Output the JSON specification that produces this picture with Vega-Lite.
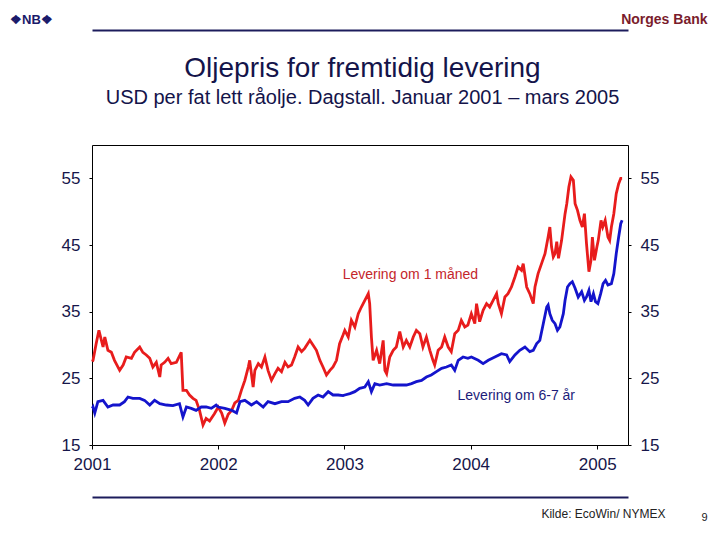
{
  "$schema": "https://vega.github.io/schema/vega-lite/v6.json",
  "width": 536,
  "height": 300,
  "autosize": "none",
  "padding": {"left": 92, "top": 145, "right": 92, "bottom": 95},
  "background": "white",
  "config": {
    "view": {"stroke": "#000000", "strokeWidth": 1},
    "font": "Liberation Sans",
    "axis": {"grid": false, "domain": false, "labelFont": "Liberation Sans", "titleFont": "Liberation Sans"}
  },
  "datasets": {
    "m1": [
      {"date": "2001-01-02", "value": 27.5},
      {"date": "2001-01-04", "value": 27.7},
      {"date": "2001-01-13", "value": 30.2},
      {"date": "2001-01-21", "value": 32.2},
      {"date": "2001-02-02", "value": 29.7},
      {"date": "2001-02-07", "value": 31.2},
      {"date": "2001-02-16", "value": 29.2},
      {"date": "2001-02-26", "value": 28.9},
      {"date": "2001-03-07", "value": 27.7},
      {"date": "2001-03-22", "value": 26.2},
      {"date": "2001-04-01", "value": 27.0},
      {"date": "2001-04-10", "value": 28.2},
      {"date": "2001-04-25", "value": 28.0},
      {"date": "2001-05-04", "value": 28.9},
      {"date": "2001-05-19", "value": 29.7},
      {"date": "2001-05-28", "value": 28.9},
      {"date": "2001-06-07", "value": 28.5},
      {"date": "2001-06-17", "value": 28.0},
      {"date": "2001-06-26", "value": 26.7},
      {"date": "2001-07-06", "value": 27.4},
      {"date": "2001-07-16", "value": 25.2},
      {"date": "2001-07-20", "value": 27.0},
      {"date": "2001-07-30", "value": 27.4},
      {"date": "2001-08-09", "value": 28.0},
      {"date": "2001-08-18", "value": 27.2},
      {"date": "2001-09-02", "value": 27.4},
      {"date": "2001-09-16", "value": 28.9},
      {"date": "2001-09-21", "value": 23.2},
      {"date": "2001-10-01", "value": 23.2},
      {"date": "2001-10-10", "value": 22.5},
      {"date": "2001-10-20", "value": 22.0},
      {"date": "2001-10-29", "value": 21.7},
      {"date": "2001-11-08", "value": 20.2},
      {"date": "2001-11-18", "value": 18.0},
      {"date": "2001-11-27", "value": 19.0},
      {"date": "2001-12-07", "value": 18.6},
      {"date": "2001-12-21", "value": 19.7},
      {"date": "2002-01-01", "value": 20.7},
      {"date": "2002-01-11", "value": 19.8},
      {"date": "2002-01-20", "value": 18.3},
      {"date": "2002-01-30", "value": 19.6},
      {"date": "2002-02-09", "value": 20.2},
      {"date": "2002-02-18", "value": 21.3},
      {"date": "2002-02-28", "value": 21.7},
      {"date": "2002-03-09", "value": 23.2},
      {"date": "2002-03-19", "value": 24.7},
      {"date": "2002-03-29", "value": 26.7},
      {"date": "2002-04-02", "value": 27.7},
      {"date": "2002-04-12", "value": 23.7},
      {"date": "2002-04-17", "value": 26.2},
      {"date": "2002-04-27", "value": 27.2},
      {"date": "2002-05-06", "value": 26.7},
      {"date": "2002-05-16", "value": 28.2},
      {"date": "2002-05-25", "value": 26.2},
      {"date": "2002-06-04", "value": 24.7},
      {"date": "2002-06-14", "value": 25.7},
      {"date": "2002-06-23", "value": 26.5},
      {"date": "2002-07-03", "value": 26.0},
      {"date": "2002-07-13", "value": 27.4},
      {"date": "2002-07-22", "value": 26.7},
      {"date": "2002-08-01", "value": 27.0},
      {"date": "2002-08-10", "value": 28.2},
      {"date": "2002-08-20", "value": 29.7},
      {"date": "2002-08-30", "value": 29.0},
      {"date": "2002-09-08", "value": 29.5},
      {"date": "2002-09-23", "value": 30.7},
      {"date": "2002-10-02", "value": 30.0},
      {"date": "2002-10-12", "value": 29.2},
      {"date": "2002-10-22", "value": 27.7},
      {"date": "2002-10-31", "value": 26.7},
      {"date": "2002-11-10", "value": 25.5},
      {"date": "2002-11-20", "value": 26.2},
      {"date": "2002-11-29", "value": 26.7},
      {"date": "2002-12-09", "value": 27.7},
      {"date": "2002-12-18", "value": 30.2},
      {"date": "2002-12-28", "value": 31.5},
      {"date": "2003-01-02", "value": 32.2},
      {"date": "2003-01-12", "value": 31.2},
      {"date": "2003-01-21", "value": 33.7},
      {"date": "2003-01-31", "value": 32.7},
      {"date": "2003-02-10", "value": 34.7},
      {"date": "2003-02-19", "value": 35.7},
      {"date": "2003-03-01", "value": 36.7},
      {"date": "2003-03-11", "value": 37.7},
      {"date": "2003-03-15", "value": 36.2},
      {"date": "2003-03-20", "value": 31.2},
      {"date": "2003-03-25", "value": 27.7},
      {"date": "2003-04-04", "value": 29.2},
      {"date": "2003-04-13", "value": 27.2},
      {"date": "2003-04-23", "value": 30.7},
      {"date": "2003-04-28", "value": 26.2},
      {"date": "2003-05-03", "value": 25.7},
      {"date": "2003-05-12", "value": 28.2},
      {"date": "2003-05-22", "value": 29.2},
      {"date": "2003-05-31", "value": 29.7},
      {"date": "2003-06-10", "value": 32.0},
      {"date": "2003-06-20", "value": 29.7},
      {"date": "2003-06-29", "value": 30.7},
      {"date": "2003-07-09", "value": 29.7},
      {"date": "2003-07-19", "value": 31.2},
      {"date": "2003-07-28", "value": 32.2},
      {"date": "2003-08-07", "value": 31.7},
      {"date": "2003-08-16", "value": 29.7},
      {"date": "2003-08-26", "value": 31.2},
      {"date": "2003-09-05", "value": 29.2},
      {"date": "2003-09-14", "value": 27.7},
      {"date": "2003-09-19", "value": 27.0},
      {"date": "2003-09-29", "value": 29.2},
      {"date": "2003-10-09", "value": 29.7},
      {"date": "2003-10-18", "value": 31.2},
      {"date": "2003-10-28", "value": 29.7},
      {"date": "2003-11-06", "value": 29.0},
      {"date": "2003-11-16", "value": 31.7},
      {"date": "2003-11-26", "value": 32.2},
      {"date": "2003-12-05", "value": 33.7},
      {"date": "2003-12-15", "value": 32.7},
      {"date": "2003-12-24", "value": 33.0},
      {"date": "2004-01-03", "value": 34.7},
      {"date": "2004-01-13", "value": 33.2},
      {"date": "2004-01-18", "value": 36.2},
      {"date": "2004-01-27", "value": 33.5},
      {"date": "2004-02-06", "value": 35.2},
      {"date": "2004-02-16", "value": 36.2},
      {"date": "2004-02-25", "value": 35.7},
      {"date": "2004-03-06", "value": 36.7},
      {"date": "2004-03-16", "value": 37.7},
      {"date": "2004-03-21", "value": 36.2},
      {"date": "2004-03-30", "value": 34.7},
      {"date": "2004-04-09", "value": 37.2},
      {"date": "2004-04-18", "value": 37.7},
      {"date": "2004-04-28", "value": 38.7},
      {"date": "2004-05-08", "value": 40.2},
      {"date": "2004-05-17", "value": 41.7},
      {"date": "2004-05-27", "value": 41.2},
      {"date": "2004-06-01", "value": 42.2},
      {"date": "2004-06-11", "value": 38.7},
      {"date": "2004-06-20", "value": 37.7},
      {"date": "2004-06-30", "value": 36.2},
      {"date": "2004-07-05", "value": 38.7},
      {"date": "2004-07-14", "value": 40.7},
      {"date": "2004-07-24", "value": 42.2},
      {"date": "2004-08-03", "value": 43.7},
      {"date": "2004-08-12", "value": 46.2},
      {"date": "2004-08-17", "value": 47.7},
      {"date": "2004-08-22", "value": 44.7},
      {"date": "2004-08-27", "value": 43.2},
      {"date": "2004-09-01", "value": 43.7},
      {"date": "2004-09-06", "value": 45.5},
      {"date": "2004-09-11", "value": 43.0},
      {"date": "2004-09-20", "value": 45.7},
      {"date": "2004-09-30", "value": 49.7},
      {"date": "2004-10-05", "value": 51.2},
      {"date": "2004-10-11", "value": 53.7},
      {"date": "2004-10-17", "value": 55.2},
      {"date": "2004-10-24", "value": 54.7},
      {"date": "2004-10-29", "value": 51.2},
      {"date": "2004-11-05", "value": 50.2},
      {"date": "2004-11-12", "value": 48.7},
      {"date": "2004-11-19", "value": 47.7},
      {"date": "2004-11-25", "value": 49.7},
      {"date": "2004-12-01", "value": 45.2},
      {"date": "2004-12-08", "value": 41.0},
      {"date": "2004-12-14", "value": 42.7},
      {"date": "2004-12-18", "value": 46.2},
      {"date": "2004-12-24", "value": 42.7},
      {"date": "2004-12-31", "value": 44.7},
      {"date": "2005-01-04", "value": 45.7},
      {"date": "2005-01-12", "value": 48.7},
      {"date": "2005-01-17", "value": 47.7},
      {"date": "2005-01-24", "value": 48.7},
      {"date": "2005-02-01", "value": 46.2},
      {"date": "2005-02-06", "value": 45.7},
      {"date": "2005-02-11", "value": 47.7},
      {"date": "2005-02-18", "value": 49.7},
      {"date": "2005-02-25", "value": 52.7},
      {"date": "2005-03-04", "value": 54.2},
      {"date": "2005-03-10", "value": 55.0},
      {"date": "2005-03-14", "value": 55.0}
    ],
    "y67": [
      {"date": "2001-01-02", "value": 20.5},
      {"date": "2001-01-04", "value": 20.7},
      {"date": "2001-01-09", "value": 19.8},
      {"date": "2001-01-18", "value": 21.5},
      {"date": "2001-02-02", "value": 21.7},
      {"date": "2001-02-16", "value": 20.7},
      {"date": "2001-03-03", "value": 21.0},
      {"date": "2001-03-22", "value": 21.0},
      {"date": "2001-04-05", "value": 21.5},
      {"date": "2001-04-15", "value": 22.2},
      {"date": "2001-04-29", "value": 22.0},
      {"date": "2001-05-19", "value": 22.0},
      {"date": "2001-06-02", "value": 21.7},
      {"date": "2001-06-17", "value": 21.0},
      {"date": "2001-07-01", "value": 21.7},
      {"date": "2001-07-16", "value": 21.2},
      {"date": "2001-08-04", "value": 21.0},
      {"date": "2001-08-23", "value": 20.9},
      {"date": "2001-09-11", "value": 21.2},
      {"date": "2001-09-21", "value": 19.2},
      {"date": "2001-10-01", "value": 20.7},
      {"date": "2001-10-15", "value": 20.5},
      {"date": "2001-10-29", "value": 20.2},
      {"date": "2001-11-13", "value": 20.7},
      {"date": "2001-11-27", "value": 20.7},
      {"date": "2001-12-12", "value": 20.5},
      {"date": "2001-12-26", "value": 21.0},
      {"date": "2002-01-01", "value": 20.7},
      {"date": "2002-01-20", "value": 20.5},
      {"date": "2002-02-09", "value": 20.2},
      {"date": "2002-02-23", "value": 19.8},
      {"date": "2002-03-05", "value": 21.5},
      {"date": "2002-03-19", "value": 21.7},
      {"date": "2002-04-07", "value": 21.0},
      {"date": "2002-04-22", "value": 21.5},
      {"date": "2002-05-11", "value": 20.7},
      {"date": "2002-05-25", "value": 21.5},
      {"date": "2002-06-14", "value": 21.2},
      {"date": "2002-07-03", "value": 21.5},
      {"date": "2002-07-22", "value": 21.5},
      {"date": "2002-08-10", "value": 22.0},
      {"date": "2002-08-25", "value": 22.2},
      {"date": "2002-09-08", "value": 21.7},
      {"date": "2002-09-18", "value": 21.0},
      {"date": "2002-10-02", "value": 22.0},
      {"date": "2002-10-17", "value": 22.5},
      {"date": "2002-10-31", "value": 22.2},
      {"date": "2002-11-15", "value": 23.0},
      {"date": "2002-11-29", "value": 22.5},
      {"date": "2002-12-14", "value": 22.5},
      {"date": "2002-12-28", "value": 22.4},
      {"date": "2003-01-02", "value": 22.5},
      {"date": "2003-01-17", "value": 22.7},
      {"date": "2003-01-31", "value": 23.0},
      {"date": "2003-02-14", "value": 23.5},
      {"date": "2003-03-01", "value": 23.7},
      {"date": "2003-03-11", "value": 24.5},
      {"date": "2003-03-20", "value": 23.0},
      {"date": "2003-03-30", "value": 24.2},
      {"date": "2003-04-13", "value": 24.0},
      {"date": "2003-05-03", "value": 24.2},
      {"date": "2003-05-22", "value": 24.0},
      {"date": "2003-06-10", "value": 24.0},
      {"date": "2003-06-29", "value": 24.0},
      {"date": "2003-07-14", "value": 24.2},
      {"date": "2003-07-28", "value": 24.5},
      {"date": "2003-08-12", "value": 24.7},
      {"date": "2003-08-26", "value": 25.2},
      {"date": "2003-09-09", "value": 25.5},
      {"date": "2003-09-24", "value": 26.0},
      {"date": "2003-10-09", "value": 26.5},
      {"date": "2003-10-23", "value": 26.7},
      {"date": "2003-11-06", "value": 27.0},
      {"date": "2003-11-16", "value": 26.2},
      {"date": "2003-11-26", "value": 27.7},
      {"date": "2003-12-10", "value": 28.2},
      {"date": "2003-12-24", "value": 28.0},
      {"date": "2004-01-03", "value": 28.2},
      {"date": "2004-01-23", "value": 27.7},
      {"date": "2004-02-06", "value": 27.2},
      {"date": "2004-02-21", "value": 27.7},
      {"date": "2004-03-11", "value": 28.2},
      {"date": "2004-03-30", "value": 28.7},
      {"date": "2004-04-14", "value": 28.5},
      {"date": "2004-04-23", "value": 27.5},
      {"date": "2004-05-08", "value": 28.5},
      {"date": "2004-05-22", "value": 29.2},
      {"date": "2004-06-06", "value": 29.7},
      {"date": "2004-06-20", "value": 29.0},
      {"date": "2004-06-30", "value": 29.2},
      {"date": "2004-07-10", "value": 30.2},
      {"date": "2004-07-19", "value": 30.7},
      {"date": "2004-07-29", "value": 33.2},
      {"date": "2004-08-08", "value": 35.7},
      {"date": "2004-08-12", "value": 36.0},
      {"date": "2004-08-17", "value": 34.7},
      {"date": "2004-08-24", "value": 33.7},
      {"date": "2004-09-01", "value": 33.2},
      {"date": "2004-09-08", "value": 32.2},
      {"date": "2004-09-15", "value": 32.7},
      {"date": "2004-09-25", "value": 34.7},
      {"date": "2004-09-30", "value": 36.7},
      {"date": "2004-10-07", "value": 38.7},
      {"date": "2004-10-14", "value": 39.2},
      {"date": "2004-10-21", "value": 39.5},
      {"date": "2004-10-29", "value": 38.5},
      {"date": "2004-11-07", "value": 37.2},
      {"date": "2004-11-17", "value": 38.0},
      {"date": "2004-11-25", "value": 36.7},
      {"date": "2004-12-01", "value": 37.2},
      {"date": "2004-12-08", "value": 38.2},
      {"date": "2004-12-14", "value": 36.5},
      {"date": "2004-12-21", "value": 37.7},
      {"date": "2004-12-27", "value": 36.5},
      {"date": "2005-01-03", "value": 36.2},
      {"date": "2005-01-11", "value": 37.7},
      {"date": "2005-01-18", "value": 39.2},
      {"date": "2005-01-25", "value": 39.7},
      {"date": "2005-02-01", "value": 39.0},
      {"date": "2005-02-11", "value": 39.2},
      {"date": "2005-02-18", "value": 40.7},
      {"date": "2005-02-25", "value": 43.7},
      {"date": "2005-03-04", "value": 46.2},
      {"date": "2005-03-10", "value": 48.2},
      {"date": "2005-03-14", "value": 48.7}
    ],
    "notes": [
      {"date": "2002-12-27", "value": 40.5, "series": "m1", "label": "Levering om 1 måned"},
      {"date": "2003-11-24", "value": 22.3, "series": "y67", "label": "Levering om 6-7 år"}
    ]
  },
  "resolve": {"axis": {"x": "independent", "y": "independent"}},
  "layer": [
    {
      "data": {"name": "m1"},
      "mark": {"type": "line", "color": "#e81c1c", "strokeWidth": 2.8},
      "encoding": {
        "x": {
          "field": "date", "type": "temporal",
          "scale": {"domain": [{"year": 2001, "month": 1, "date": 1}, {"year": 2005, "month": 3, "date": 31}]},
          "axis": {
            "orient": "bottom",
            "values": [{"year": 2001, "month": 1, "date": 1}, {"year": 2002, "month": 1, "date": 1}, {"year": 2003, "month": 1, "date": 1}, {"year": 2004, "month": 1, "date": 1}, {"year": 2005, "month": 1, "date": 1}],
            "format": "%Y",
            "labelFontSize": 17, "labelColor": "#16164a", "labelFlush": false, "labelOverlap": false,
            "tickSize": 4, "tickColor": "#000000", "labelPadding": 7,
            "title": "Kilde: EcoWin/ NYMEX", "titleX": 573, "titleY": 72, "titleAlign": "right",
            "titleBaseline": "alphabetic", "titleFontSize": 12, "titleFontWeight": "normal", "titleColor": "#222222"
          }
        },
        "y": {
          "field": "value", "type": "quantitative",
          "scale": {"domain": [15, 60], "nice": false, "zero": false},
          "axis": {
            "orient": "left", "values": [15, 25, 35, 45, 55],
            "labelFontSize": 17, "labelColor": "#16164a", "tickSize": 3, "tickColor": "#000000", "labelPadding": 9,
            "title": "❖NB❖", "titleAngle": 0, "titleX": -61, "titleY": -122, "titleAlign": "center",
            "titleBaseline": "alphabetic", "titleFontSize": 13, "titleFontWeight": "bold", "titleColor": "#1a1a6a"
          }
        }
      }
    },
    {
      "data": {"name": "y67"},
      "mark": {"type": "line", "color": "#1414cc", "strokeWidth": 2.8},
      "encoding": {
        "x": {
          "field": "date", "type": "temporal",
          "scale": {"domain": [{"year": 2001, "month": 1, "date": 1}, {"year": 2005, "month": 3, "date": 31}]},
          "axis": {
            "orient": "top", "offset": 115, "domain": true, "domainColor": "#1c1c5c", "domainWidth": 2,
            "labels": false, "ticks": false,
            "title": "Oljepris for fremtidig levering", "titleX": 270, "titleY": 46, "titleAlign": "center",
            "titleBaseline": "alphabetic", "titleFontSize": 28, "titleFontWeight": "normal", "titleColor": "#14144a"
          }
        },
        "y": {
          "field": "value", "type": "quantitative",
          "scale": {"domain": [15, 60], "nice": false, "zero": false},
          "axis": {
            "orient": "right", "values": [15, 25, 35, 45, 55],
            "labelFontSize": 17, "labelColor": "#16164a", "tickSize": 3, "tickColor": "#000000", "labelPadding": 9,
            "title": "Norges Bank", "titleAngle": 0, "titleX": 79, "titleY": -122, "titleAlign": "right",
            "titleBaseline": "alphabetic", "titleFontSize": 14, "titleFontWeight": "bold", "titleColor": "#7a1c2c"
          }
        }
      }
    },
    {
      "data": {"name": "notes"},
      "mark": {"type": "text", "align": "left", "baseline": "middle", "fontSize": 14, "font": "Liberation Sans"},
      "encoding": {
        "x": {
          "field": "date", "type": "temporal",
          "scale": {"domain": [{"year": 2001, "month": 1, "date": 1}, {"year": 2005, "month": 3, "date": 31}]},
          "axis": {
            "orient": "bottom", "offset": 52, "domain": true, "domainColor": "#1c1c5c", "domainWidth": 2,
            "labels": false, "ticks": false,
            "title": "9", "titleX": 615, "titleY": 23, "titleAlign": "right",
            "titleBaseline": "alphabetic", "titleFontSize": 11, "titleFontWeight": "normal", "titleColor": "#222222"
          }
        },
        "y": {
          "field": "value", "type": "quantitative",
          "scale": {"domain": [15, 60], "nice": false, "zero": false},
          "axis": {
            "orient": "left", "labels": false, "ticks": false, "domain": false,
            "title": "USD per fat lett råolje. Dagstall. Januar 2001 – mars 2005", "titleAngle": 0,
            "titleX": 270, "titleY": -42, "titleAlign": "center", "titleBaseline": "alphabetic",
            "titleFontSize": 20, "titleFontWeight": "normal", "titleColor": "#14144a"
          }
        },
        "text": {"field": "label", "type": "nominal"},
        "color": {"field": "series", "type": "nominal", "scale": {"domain": ["m1", "y67"], "range": ["#c4262b", "#1c1c7a"]}, "legend": null}
      }
    }
  ]
}
